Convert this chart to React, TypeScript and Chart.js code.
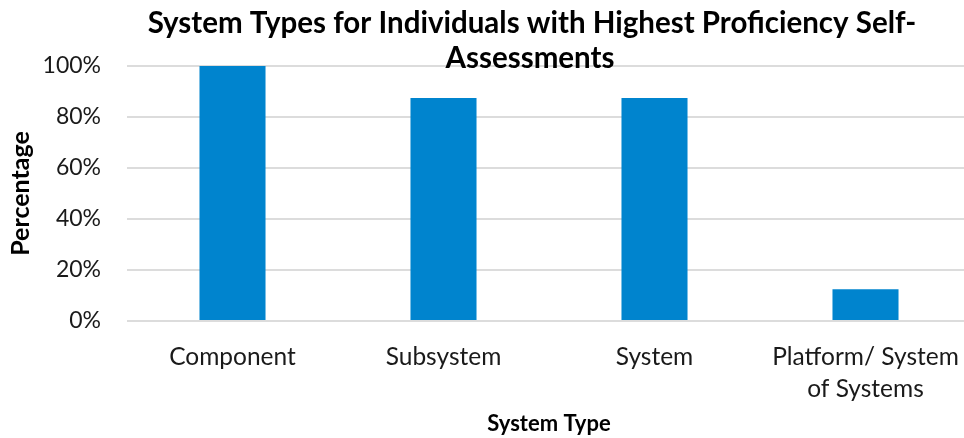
import React, { useEffect, useRef } from "react";
import { Chart, registerables } from "chart.js";

Chart.register(...registerables);

const categories: (string | string[])[] = [
  "Component",
  "Subsystem",
  "System",
  ["Platform/ System", "of Systems"],
];
const percentages: number[] = [100, 87.5, 87.5, 12.5];
const yTicks: number[] = [0, 20, 40, 60, 80, 100];
const titleLines: string[] = [
  "System Types for Individuals with Highest Proficiency Self-",
  "Assessments",
];
const yTitle = "Percentage";
const xTitle = "System Type";

const FONT = "Lato, 'Noto Sans', sans-serif";

export default function App() {
  const ref = useRef<HTMLCanvasElement | null>(null);

  useEffect(() => {
    document.body.style.margin = "0";
    const canvas = ref.current;
    if (!canvas) return;

    const titlePlugin = {
      id: "overlapTitle",
      afterDraw(chart: any) {
        const ctx = chart.ctx;
        ctx.save();
        ctx.fillStyle = "#000";
        ctx.font = `bold 29.5px ${FONT}`;
        ctx.textAlign = "center";
        ctx.textBaseline = "middle";
        ctx.fillText(titleLines[0], 532, 23);
        ctx.fillText(titleLines[1], 530, 58);
        ctx.restore();
      },
    };

    const chart = new Chart(canvas, {
      type: "bar",
      data: {
        labels: categories,
        datasets: [
          {
            data: percentages,
            backgroundColor: "#0084CE",
            borderWidth: 0,
            categoryPercentage: 1,
            barPercentage: 0.313,
          },
        ],
      },
      plugins: [titlePlugin],
      options: {
        animation: false,
        responsive: false,
        maintainAspectRatio: false,
        layout: { padding: { top: 66, right: 0, left: 0, bottom: 0 } },
        plugins: {
          legend: { display: false },
          tooltip: { enabled: false },
          title: { display: false },
        },
        scales: {
          x: {
            grid: { display: false, drawTicks: false },
            border: { display: false },
            ticks: {
              color: "#1a1a1a",
              font: { family: FONT, size: 24.5, lineHeight: 1.3 },
              padding: 20,
              maxRotation: 0,
              autoSkip: false,
            },
            title: {
              display: true,
              text: xTitle,
              color: "#000",
              font: { family: FONT, size: 22, weight: "bold" },
              padding: { top: 0, bottom: 1 },
            },
            afterFit(scale: any) {
              scale.height = 117;
              scale.paddingRight = 0;
              scale.paddingLeft = 0;
            },
          },
          y: {
            min: 0,
            max: 100,
            afterBuildTicks(scale: any) {
              scale.ticks = yTicks.map((v) => ({ value: v }));
            },
            grid: {
              color: "#dcdcdc",
              lineWidth: 2,
              drawTicks: false,
            },
            border: { display: false },
            ticks: {
              color: "#1a1a1a",
              font: { family: FONT, size: 23 },
              padding: 26,
              callback: (v: any) => `${v}%`,
            },
            title: {
              display: true,
              text: yTitle,
              color: "#000",
              font: { family: FONT, size: 25, weight: "bold" },
              padding: { top: 6, bottom: 0 },
            },
            afterFit(scale: any) {
              scale.width = 127;
            },
          },
        },
      },
    });
    return () => chart.destroy();
  }, []);

  return (
    <div style={{ position: "absolute", left: 0, top: 0, width: 964, height: 438, overflow: "hidden", background: "#fff" }}>
      <canvas ref={ref} width={971} height={438} style={{ display: "block" }} />
    </div>
  );
}
